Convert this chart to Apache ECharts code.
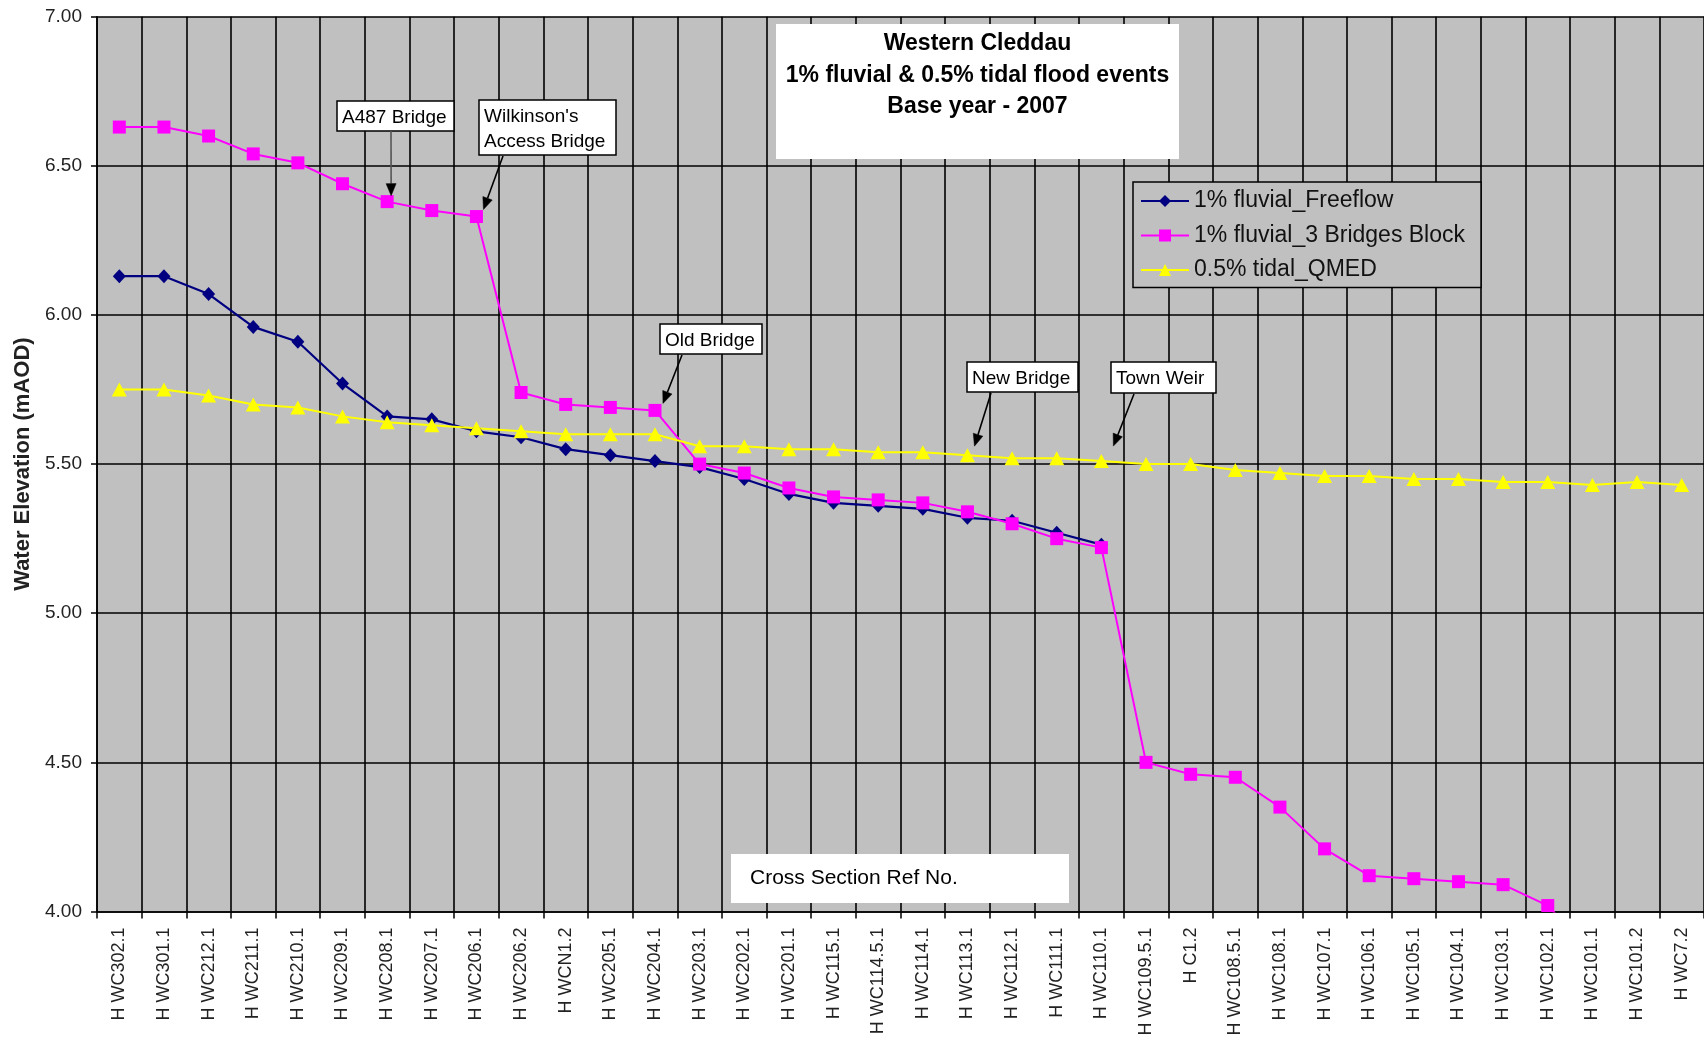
<!DOCTYPE html>
<html>
<head>
<meta charset="utf-8">
<title>Western Cleddau water levels</title>
<script src="https://cdn.jsdelivr.net/npm/echarts@6/dist/echarts.min.js"></script>
<style>
  html, body { margin: 0; padding: 0; background: #fff; }
  #chart { width: 1704px; height: 1045px; }
</style>
</head>
<body>
<div id="chart"></div>
<script>
// Cross sections, upstream to downstream
const categories = [
  'H WC302.1', 'H WC301.1', 'H WC212.1', 'H WC211.1', 'H WC210.1', 'H WC209.1',
  'H WC208.1', 'H WC207.1', 'H WC206.1', 'H WC206.2', 'H WCN1.2', 'H WC205.1',
  'H WC204.1', 'H WC203.1', 'H WC202.1', 'H WC201.1', 'H WC115.1', 'H WC114.5.1',
  'H WC114.1', 'H WC113.1', 'H WC112.1', 'H WC111.1', 'H WC110.1', 'H WC109.5.1',
  'H C1.2', 'H WC108.5.1', 'H WC108.1', 'H WC107.1', 'H WC106.1', 'H WC105.1',
  'H WC104.1', 'H WC103.1', 'H WC102.1', 'H WC101.1', 'H WC101.2', 'H WC7.2'
];

// Water elevation (mAOD) per cross section
const freeflow = [
  6.13, 6.13, 6.07, 5.96, 5.91, 5.77, 5.66, 5.65, 5.61, 5.59, 5.55, 5.53,
  5.51, 5.49, 5.45, 5.40, 5.37, 5.36, 5.35, 5.32, 5.31, 5.27, 5.23
];
const bridgesBlock = [
  6.63, 6.63, 6.60, 6.54, 6.51, 6.44, 6.38, 6.35, 6.33, 5.74, 5.70, 5.69,
  5.68, 5.50, 5.47, 5.42, 5.39, 5.38, 5.37, 5.34, 5.30, 5.25, 5.22, 4.50,
  4.46, 4.45, 4.35, 4.21, 4.12, 4.11, 4.10, 4.09, 4.02, 3.86
];
const tidalQmed = [
  5.75, 5.75, 5.73, 5.70, 5.69, 5.66, 5.64, 5.63, 5.62, 5.61, 5.60, 5.60,
  5.60, 5.56, 5.56, 5.55, 5.55, 5.54, 5.54, 5.53, 5.52, 5.52, 5.51, 5.50,
  5.50, 5.48, 5.47, 5.46, 5.46, 5.45, 5.45, 5.44, 5.44, 5.43, 5.44, 5.43
];

const seriesNames = ['1% fluvial_Freeflow', '1% fluvial_3 Bridges Block', '0.5% tidal_QMED'];
const titleLines = ['Western Cleddau', '1% fluvial & 0.5% tidal flood events', 'Base year - 2007'];
const xAxisTitle = 'Cross Section Ref No.';
const yAxisTitle = 'Water Elevation (mAOD)';

// Structures marked on the profile: label, series and cross section pointed at
const callouts = [
  { text: 'A487 Bridge', series: 1, index: 6 },
  { text: "Wilkinson's\nAccess Bridge", series: 1, index: 8 },
  { text: 'Old Bridge', series: 1, index: 12 },
  { text: 'New Bridge', series: 2, index: 19 },
  { text: 'Town Weir', series: 2, index: 22 }
];
const seriesData = [freeflow, bridgesBlock, tidalQmed];

// Callout box placement (px) and arrow styling
const calloutLayout = [
  { box: [337, 101, 117, 30], tail: [391, 131], tipOffset: [4, -6], shaft: '#555' },
  { box: [479, 100, 137, 55], tail: [503, 156], tipOffset: [7, -7], shaft: '#000' },
  { box: [660, 324, 102, 30], tail: [682, 355], tipOffset: [8, -7], shaft: '#000' },
  { box: [967, 362, 111, 30], tail: [991, 393], tipOffset: [7, -9], shaft: '#000' },
  { box: [1111, 362, 105, 31], tail: [1134, 394], tipOffset: [12, -15], shaft: '#000' }
];

const FONT = '"Liberation Sans", Arial, Helvetica, sans-serif';
const chart = echarts.init(document.getElementById('chart'), null, { renderer: 'canvas' });

const option = {
  animation: false,
  backgroundColor: '#ffffff',
  textStyle: { fontFamily: FONT },
  grid: {
    left: 97, right: 0, top: 16.7, bottom: 133.5,
    show: true, backgroundColor: '#C0C0C0', borderWidth: 0
  },
  legend: {
    orient: 'vertical',
    left: 1133, top: 182,
    padding: [7.5, 16, 6, 7],
    itemGap: 11.5,
    itemWidth: 48, itemHeight: 15,
    backgroundColor: '#C0C0C0',
    borderColor: '#000', borderWidth: 1.5, borderRadius: 0,
    textStyle: { fontSize: 23, color: '#111', fontFamily: FONT },
    data: seriesNames
  },
  xAxis: {
    type: 'category',
    data: categories,
    boundaryGap: true,
    axisLine: { show: true, lineStyle: { color: '#000', width: 1.5 } },
    axisTick: { show: true, interval: 0, length: 7, lineStyle: { color: '#000', width: 1.5 } },
    splitLine: { show: true, interval: 0, lineStyle: { color: '#000', width: 1.6 } },
    axisLabel: {
      interval: 0, rotate: 90, margin: 16,
      fontSize: 18, color: '#222', fontFamily: FONT
    }
  },
  yAxis: {
    type: 'value',
    min: 4, max: 7, interval: 0.5,
    name: yAxisTitle,
    nameLocation: 'middle',
    nameGap: 61,
    nameTextStyle: { fontSize: 22, fontWeight: 'bold', color: '#222', fontFamily: FONT },
    axisLine: { show: true, lineStyle: { color: '#000', width: 1.5 } },
    axisTick: { show: true, length: 6, lineStyle: { color: '#000', width: 1.5 } },
    splitLine: { show: true, lineStyle: { color: '#000', width: 1.6 } },
    axisLabel: {
      formatter: v => v.toFixed(2),
      fontSize: 19, margin: 15, color: '#222', fontFamily: FONT
    }
  },
  series: [
    {
      name: seriesNames[0], type: 'line', data: freeflow,
      symbol: 'diamond', symbolSize: [13, 14], showAllSymbol: true,
      lineStyle: { color: '#000080', width: 2.2 },
      itemStyle: { color: '#000080' }
    },
    {
      name: seriesNames[1], type: 'line', data: bridgesBlock,
      symbol: 'rect', symbolSize: 13, showAllSymbol: true,
      lineStyle: { color: '#FF00FF', width: 2 },
      itemStyle: { color: '#FF00FF' }
    },
    {
      name: seriesNames[2], type: 'line', data: tidalQmed,
      symbol: 'triangle', symbolSize: [15, 14], showAllSymbol: true,
      lineStyle: { color: '#FFFF00', width: 2 },
      itemStyle: { color: '#FFFF00' }
    }
  ]
};

chart.setOption(option);

// Arrow from a callout box to the marker it points at
function arrow(tail, tip, shaftColor) {
  const dx = tip[0] - tail[0], dy = tip[1] - tail[1];
  const len = Math.hypot(dx, dy);
  const ux = dx / len, uy = dy / len;
  const headLen = 12, headHalf = 5;
  const base = [tip[0] - ux * headLen, tip[1] - uy * headLen];
  const left = [base[0] - uy * headHalf, base[1] + ux * headHalf];
  const right = [base[0] + uy * headHalf, base[1] - ux * headHalf];
  return [
    { type: 'line', z: 100, shape: { x1: tail[0], y1: tail[1], x2: base[0], y2: base[1] },
      style: { stroke: shaftColor, lineWidth: 1.6 } },
    { type: 'polygon', z: 100, shape: { points: [tip, left, right] },
      style: { fill: '#000', stroke: '#000', lineWidth: 0.5 } }
  ];
}

const graphics = [];

// Title block
graphics.push({ type: 'rect', z: 100, shape: { x: 776, y: 24, width: 403, height: 135 },
  style: { fill: '#fff' } });
titleLines.forEach((line, i) => {
  graphics.push({ type: 'text', z: 101, x: 977.5, y: 44 + i * 31.2,
    style: { text: line, font: 'bold 23px ' + FONT, fill: '#000',
      textAlign: 'center', textVerticalAlign: 'middle' } });
});

// Horizontal axis title
graphics.push({ type: 'rect', z: 100, shape: { x: 731, y: 854, width: 338, height: 49 },
  style: { fill: '#fff' } });
graphics.push({ type: 'text', z: 101, x: 750, y: 878.5,
  style: { text: xAxisTitle, font: '21px ' + FONT, fill: '#000',
    textAlign: 'left', textVerticalAlign: 'middle' } });

// Structure callouts
callouts.forEach((c, i) => {
  const lay = calloutLayout[i];
  const [bx, by, bw, bh] = lay.box;
  graphics.push({ type: 'rect', z: 100, shape: { x: bx, y: by, width: bw, height: bh },
    style: { fill: '#fff', stroke: '#000', lineWidth: 1.5 } });
  graphics.push({ type: 'text', z: 101, x: bx + 5, y: by + 4,
    style: { text: c.text, font: '19px ' + FONT, fill: '#000', lineHeight: 25,
      textAlign: 'left', textVerticalAlign: 'top' } });
  const p = chart.convertToPixel({ seriesIndex: c.series }, [c.index, seriesData[c.series][c.index]]);
  const tip = [p[0] + lay.tipOffset[0], p[1] + lay.tipOffset[1]];
  arrow(lay.tail, tip, lay.shaft).forEach(g => graphics.push(g));
});

chart.setOption({ graphic: graphics });
</script>
</body>
</html>
